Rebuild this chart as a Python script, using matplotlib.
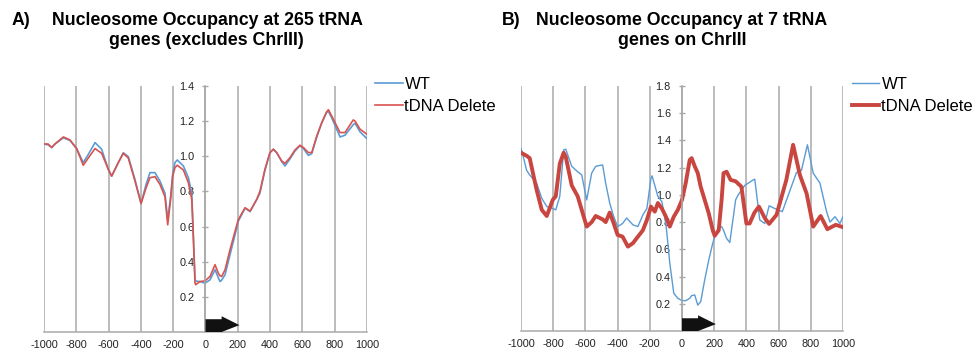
import matplotlib
matplotlib.use("Agg")
import matplotlib.pyplot as plt
from matplotlib.patches import Polygon
from matplotlib.transforms import blended_transform_factory

plt.rcParams['font.family'] = ['Liberation Sans', 'DejaVu Sans']

# ---- Panel A: 265 tRNA genes (excludes ChrIII) ----
a_pos = [-1000, -975, -952, -932, -880, -839, -798, -757, -726, -684, -643, -602,
         -581, -540, -509, -478, -437, -399, -368, -344, -313, -282, -251, -234,
         -216, -203, -189, -175, -137, -106, -85, -75, -65, -61, -34, -3, 28, 59,
         79, 90, 100, 121, 152, 183, 203, 245, 276, 317, 337, 368, 399, 420, 441,
         472, 492, 523, 554, 585, 606, 637, 658, 689, 720, 750, 761, 781, 833, 864,
         915, 926, 957, 1000]
a_wt = [1.07, 1.065, 1.05, 1.07, 1.105, 1.09, 1.044, 0.964, 1.01, 1.078, 1.04, 0.926,
        0.887, 0.964, 1.02, 0.998, 0.869, 0.731, 0.84, 0.907, 0.907, 0.859, 0.79, 0.64,
        0.77, 0.90, 0.964, 0.979, 0.945, 0.878, 0.79, 0.55, 0.30, 0.29, 0.287, 0.278,
        0.297, 0.354, 0.31, 0.287, 0.295, 0.326, 0.44, 0.554, 0.63, 0.705, 0.685, 0.754,
        0.79, 0.92, 1.02, 1.04, 1.02, 0.97, 0.945, 0.985, 1.03, 1.06, 1.045, 1.005,
        1.015, 1.11, 1.19, 1.25, 1.255, 1.22, 1.11, 1.12, 1.18, 1.188, 1.139, 1.10]
a_del = [1.07, 1.07, 1.05, 1.07, 1.11, 1.093, 1.044, 0.949, 0.99, 1.044, 1.017, 0.926,
         0.887, 0.964, 1.017, 0.99, 0.86, 0.731, 0.82, 0.878, 0.884, 0.84, 0.77, 0.61,
         0.754, 0.887, 0.935, 0.949, 0.922, 0.85, 0.754, 0.526, 0.28, 0.269, 0.287,
         0.291, 0.316, 0.383, 0.335, 0.32, 0.316, 0.354, 0.469, 0.573, 0.64, 0.707,
         0.688, 0.754, 0.80, 0.926, 1.021, 1.04, 1.021, 0.973, 0.96, 0.992, 1.036,
         1.063, 1.05, 1.021, 1.021, 1.116, 1.192, 1.253, 1.265, 1.23, 1.135, 1.135,
         1.207, 1.20, 1.154, 1.125]

# ---- Panel B: 7 tRNA genes on ChrIII ----
b_wt_pos = [-1000, -990, -965, -946, -903, -871, -840, -803, -784, -759, -735, -722,
            -685, -648, -623, -592, -561, -536, -493, -474, -449, -424, -400, -369,
            -344, -305, -274, -243, -218, -193, -186, -169, -150, -125, -100, -76,
            -51, -26, 0, 23, 48, 60, 79, 98, 116, 141, 166, 191, 203, 228, 246, 258,
            277, 297, 333, 349, 390, 442, 452, 483, 514, 541, 576, 623, 711, 742,
            779, 815, 857, 898, 919, 950, 981, 1000]
b_wt = [1.34, 1.30, 1.18, 1.147, 1.086, 0.975, 0.914, 0.90, 0.89, 0.99, 1.33, 1.336,
        1.21, 1.17, 1.147, 0.963, 1.16, 1.21, 1.22, 1.086, 0.94, 0.84, 0.767, 0.79,
        0.83, 0.78, 0.767, 0.853, 0.90, 1.12, 1.14, 1.07, 0.99, 0.95, 0.79, 0.50,
        0.277, 0.24, 0.223, 0.223, 0.24, 0.26, 0.265, 0.19, 0.215, 0.375, 0.52, 0.645,
        0.69, 0.767, 0.767, 0.74, 0.68, 0.65, 0.963, 1.0, 1.07, 1.11, 1.115, 0.816,
        0.79, 0.92, 0.90, 0.877, 1.164, 1.18, 1.368, 1.16, 1.086, 0.877, 0.80, 0.84,
        0.79, 0.84]
b_del_pos = [-1000, -985, -965, -946, -903, -871, -840, -803, -784, -759, -735, -722,
             -685, -648, -623, -592, -561, -536, -493, -474, -449, -424, -400, -369,
             -336, -305, -274, -243, -218, -193, -169, -150, -125, -100, -76, -51,
             -26, 0, 23, 48, 60, 79, 98, 116, 141, 166, 191, 203, 228, 246, 258, 277,
             302, 333, 369, 400, 420, 450, 478, 514, 541, 587, 648, 690, 732, 774,
             815, 861, 903, 955, 1000]
b_del = [1.31, 1.30, 1.287, 1.27, 1.037, 0.89, 0.845, 0.963, 0.99, 1.23, 1.31, 1.28,
         1.07, 0.99, 0.89, 0.767, 0.80, 0.845, 0.82, 0.80, 0.87, 0.79, 0.706, 0.693,
         0.62, 0.645, 0.693, 0.74, 0.816, 0.914, 0.877, 0.94, 0.90, 0.84, 0.767, 0.84,
         0.89, 0.963, 1.086, 1.257, 1.27, 1.21, 1.16, 1.06, 0.963, 0.865, 0.74, 0.70,
         0.74, 0.963, 1.16, 1.17, 1.11, 1.10, 1.06, 0.79, 0.79, 0.87, 0.914, 0.83,
         0.787, 0.853, 1.11, 1.368, 1.147, 1.01, 0.767, 0.845, 0.748, 0.78, 0.763]

x_ticks = list(range(-1000, 1001, 200))
a_yticks = [0.2, 0.4, 0.6, 0.8, 1.0, 1.2, 1.4]
b_yticks = [0.2, 0.4, 0.6, 0.8, 1.0, 1.2, 1.4, 1.6, 1.8]

# gene-body arrow (start, head start, tip) in bp
GENE_ARROW = (0, 100, 210)

BLUE = '#5b9bd5'
RED_A = '#d9534f'
RED_B = '#c8463f'
GRID = '#a9a9a9'
W, H = 979, 351

fig = plt.figure(figsize=(W / 100, H / 100), dpi=100)


def style_axes(ax, ymax, yticks):
    ax.set_xlim(-1000, 1000)
    ax.set_ylim(0, ymax)
    ax.set_xticks(x_ticks)
    ax.set_xticklabels([str(t) for t in x_ticks])
    ax.set_yticks(yticks)
    ax.set_yticklabels([f"{t:.1f}" for t in yticks])
    for s in ('top', 'right'):
        ax.spines[s].set_visible(False)
    ax.spines['left'].set_position(('data', 0))
    ax.spines['left'].set_color(GRID)
    ax.spines['left'].set_linewidth(1.1)
    ax.spines['bottom'].set_color(GRID)
    ax.spines['bottom'].set_linewidth(1.1)
    ax.grid(axis='x', color=GRID, linewidth=1.1)
    ax.set_axisbelow(True)
    ax.tick_params(axis='x', length=0, pad=6, labelsize=7.8, labelcolor='#222222')
    ax.tick_params(axis='y', length=4, direction='inout', color=GRID, width=1,
                   pad=6, labelsize=7.8, labelcolor='#222222')
    s, hs, tip = GENE_ARROW
    tr = blended_transform_factory(ax.transData, ax.transAxes)
    arrow = Polygon([(s, 0.0), (s, 0.052), (hs, 0.052), (hs, 0.064), (tip, 0.028),
                     (hs, 0.0)], closed=True, facecolor='#111111', edgecolor='none',
                    transform=tr, clip_on=False, zorder=5)
    ax.add_patch(arrow)


def add_legend(ax, x_px):
    ax.legend(loc='upper left', bbox_to_anchor=(x_px / W, 1 - 77 / H),
              bbox_transform=fig.transFigure, frameon=False, fontsize=12,
              handlelength=1.65, handletextpad=0.12, borderpad=0,
              borderaxespad=0, labelspacing=0.42)


# Panel A
axA = fig.add_axes([44 / W, 1 - 332 / H, 323 / W, 246 / H])
axA.plot(a_pos, a_wt, color=BLUE, lw=1.2, label='WT')
axA.plot(a_pos, a_del, color=RED_A, lw=1.2, label='tDNA Delete')
style_axes(axA, 1.4, a_yticks)
add_legend(axA, 375)

# Panel B
axB = fig.add_axes([521 / W, 1 - 331 / H, 322 / W, 245 / H])
axB.plot(b_wt_pos, b_wt, color=BLUE, lw=1.0, label='WT')
axB.plot(b_del_pos, b_del, color=RED_B, lw=2.8, label='tDNA Delete')
style_axes(axB, 1.8, b_yticks)
add_legend(axB, 852)

title_kw = dict(fontsize=12.8, fontweight='bold', ha='center', va='baseline')
fig.text(208 / W, 1 - 25 / H, 'Nucleosome Occupancy at 265 tRNA', **title_kw)
fig.text(206 / W, 1 - 45 / H, 'genes (excludes ChrIII)', **title_kw)
fig.text(682 / W, 1 - 25 / H, 'Nucleosome Occupancy at 7 tRNA', **title_kw)
fig.text(682 / W, 1 - 45 / H, 'genes on ChrIII', **title_kw)
fig.text(12 / W, 1 - 25 / H, 'A)', fontsize=12.8, fontweight='bold', va='baseline')
fig.text(502 / W, 1 - 25 / H, 'B)', fontsize=12.8, fontweight='bold', va='baseline')

fig.savefig('out.png', dpi=100)
